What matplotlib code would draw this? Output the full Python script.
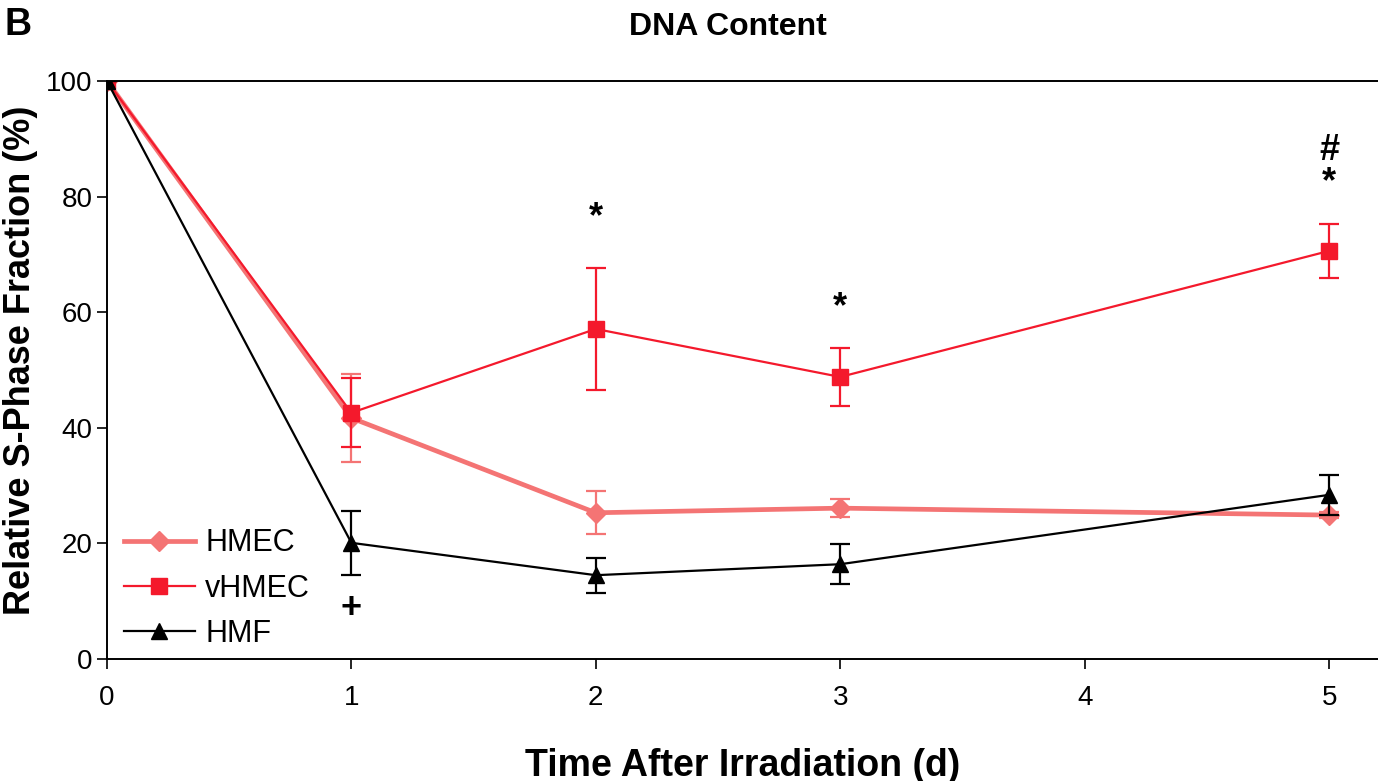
import matplotlib.pyplot as plt
from matplotlib.lines import Line2D

plt.rcParams['font.family'] = ['Liberation Sans', 'DejaVu Sans']

# time points (days)
days = [0, 1, 2, 3, 5]

# relative S-phase fraction (%)
hmec = [100, 41.7, 25.3, 26.1, 24.9]
hmec_err = [0, 7.6, 3.7, 1.5, 0.5]
vhmec = [100, 42.6, 57.1, 48.8, 70.6]
vhmec_err = [0, 6.0, 10.5, 5.0, 4.6]
hmf = [100, 20.1, 14.5, 16.4, 28.4]
hmf_err = [0, 5.5, 3.0, 3.5, 3.5]

# significance marks (x, y, text)
marks = [(1, 8.8, '+'), (2, 76.3, '*'), (3, 60.7, '*'), (5, 82.4, '*'), (5, 88.0, '#')]

fig = plt.figure(figsize=(13.78, 7.81), dpi=100)
ax = fig.add_axes([0.0776, 0.1562, 0.9224, 0.7401])

c_hmec = '#f47474'
c_vhmec = '#f4192c'

ax.errorbar(days, hmec, yerr=hmec_err, color=c_hmec, lw=3.4, marker='D', ms=10,
            capsize=7, capthick=1.6, elinewidth=1.6, zorder=2)
ax.errorbar(days, vhmec, yerr=vhmec_err, color=c_vhmec, lw=1.6, marker='s', ms=12,
            capsize=7, capthick=1.6, elinewidth=1.6, zorder=3)
ax.errorbar(days, hmf, yerr=hmf_err, color='black', lw=1.6, marker='^', ms=12,
            capsize=7, capthick=1.6, elinewidth=1.6, zorder=4)

for x, y, t in marks:
    ax.text(x, y, t, ha='center', va='center', fontsize=26, fontweight='bold')

ax.set_xlim(0, 5.2)
ax.set_ylim(0, 100)
ax.set_xticks([0, 1, 2, 3, 4, 5])
ax.set_yticks([0, 20, 40, 60, 80, 100])
ax.tick_params(labelsize=20, length=7, width=1.2, direction='out')
ax.tick_params(axis='x', pad=12)
ax.spines['right'].set_visible(False)
for s in ['left', 'bottom', 'top']:
    ax.spines[s].set_linewidth(1.4)

ax.set_xlabel('Time After Irradiation (d)', fontsize=27, fontweight='bold', labelpad=26)
ax.set_ylabel('Relative S-Phase Fraction (%)', fontsize=26, fontweight='bold',
              va='center')
ax.yaxis.set_label_coords(-0.068, 0.517)

fig.text(0.528, 0.965, 'DNA Content', ha='center', va='center', fontsize=23, fontweight='bold')
fig.text(0.013, 0.968, 'B', ha='center', va='center', fontsize=27, fontweight='bold')

handles = [
    Line2D([], [], color=c_hmec, lw=3.4, marker='D', ms=10),
    Line2D([], [], color=c_vhmec, lw=1.6, marker='s', ms=12),
    Line2D([], [], color='black', lw=1.6, marker='^', ms=12),
]
ax.legend(handles, ['HMEC', 'vHMEC', 'HMF'], loc='lower left', bbox_to_anchor=(-0.008, -0.03),
          frameon=False, fontsize=22, handlelength=2.3, labelspacing=0.5,
          borderaxespad=0.5, handletextpad=0.35)

fig.savefig('out.png', dpi=100)
